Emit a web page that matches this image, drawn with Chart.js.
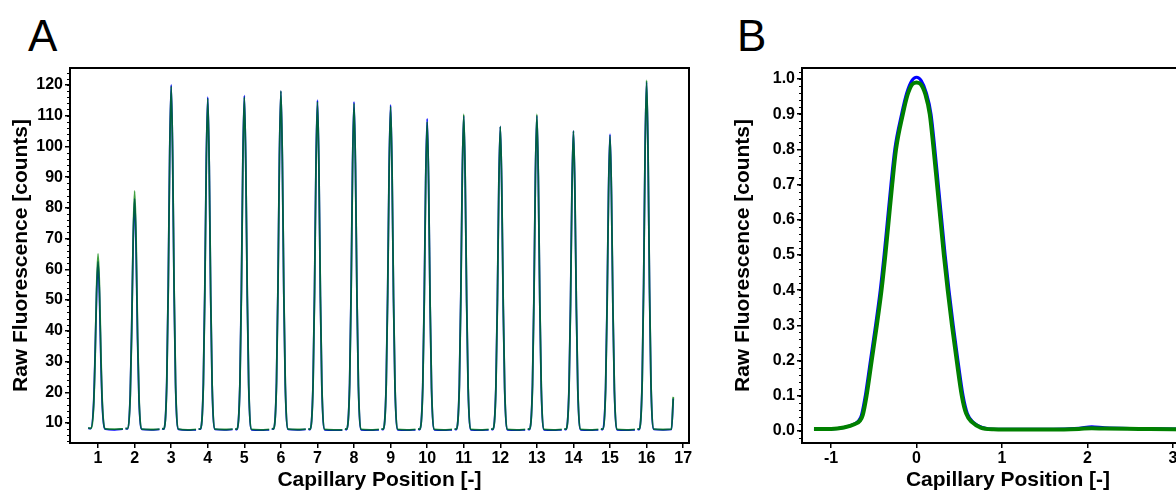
<!DOCTYPE html>
<html>
<head>
<meta charset="utf-8">
<script src="https://cdn.jsdelivr.net/npm/chart.js@4/dist/chart.umd.min.js"></script>
<style>
  body { margin: 0; background: #fff; overflow: hidden; width: 1176px; height: 493px; position: relative; }
  .panel { position: absolute; top: 0; height: 493px; }
  .letter { position: absolute; top: 14px; font-family: "Liberation Sans", Arial, sans-serif; font-size: 44px; line-height: 1; color: #000; }
</style>
</head>
<body>
<div class="letter" style="left:28px">A</div>
<div class="letter" style="left:737px">B</div>
<div class="panel" style="left:0; width:700px"><canvas id="chartA"></canvas></div>
<div class="panel" style="left:700px; width:530px"><canvas id="chartB"></canvas></div>

<script>
// ---- panel A : raw scan over 16 capillaries ----
let xTicksA = [1, 2, 3, 4, 5, 6, 7, 8, 9, 10, 11, 12, 13, 14, 15, 16, 17]
let yTicksA = [10, 20, 30, 40, 50, 60, 70, 80, 90, 100, 110, 120]

let posA = [
  0.73, 0.8, 0.88, 0.92, 0.96, 1, 1.04, 1.08, 1.12, 1.2, 1.45, 1.68, 1.7,
  1.75, 1.8, 1.88, 1.92, 1.96, 2, 2.04, 2.08, 2.12, 2.2, 2.45, 2.68, 2.7,
  2.75, 2.8, 2.88, 2.92, 2.96, 3, 3.04, 3.08, 3.12, 3.2, 3.45, 3.68, 3.7,
  3.75, 3.8, 3.88, 3.92, 3.96, 4, 4.04, 4.08, 4.12, 4.2, 4.45, 4.68, 4.7,
  4.75, 4.8, 4.88, 4.92, 4.96, 5, 5.04, 5.08, 5.12, 5.2, 5.45, 5.68, 5.7,
  5.75, 5.8, 5.88, 5.92, 5.96, 6, 6.04, 6.08, 6.12, 6.2, 6.45, 6.68, 6.7,
  6.75, 6.8, 6.88, 6.92, 6.96, 7, 7.04, 7.08, 7.12, 7.2, 7.45, 7.68, 7.7,
  7.75, 7.8, 7.88, 7.92, 7.96, 8, 8.04, 8.08, 8.12, 8.2, 8.45, 8.68, 8.7,
  8.75, 8.8, 8.88, 8.92, 8.96, 9, 9.04, 9.08, 9.12, 9.2, 9.45, 9.68, 9.7,
  9.75, 9.8, 9.88, 9.92, 9.96, 10, 10.04, 10.08, 10.12, 10.2, 10.45, 10.68, 10.7,
  10.75, 10.8, 10.88, 10.92, 10.96, 11, 11.04, 11.08, 11.12, 11.2, 11.45, 11.68, 11.7,
  11.75, 11.8, 11.88, 11.92, 11.96, 12, 12.04, 12.08, 12.12, 12.2, 12.45, 12.68, 12.7,
  12.75, 12.8, 12.88, 12.92, 12.96, 13, 13.04, 13.08, 13.12, 13.2, 13.45, 13.68, 13.7,
  13.75, 13.8, 13.88, 13.92, 13.96, 14, 14.04, 14.08, 14.12, 14.2, 14.45, 14.68, 14.7,
  14.75, 14.8, 14.88, 14.92, 14.96, 15, 15.04, 15.08, 15.12, 15.2, 15.45, 15.68, 15.7,
  15.75, 15.8, 15.88, 15.92, 15.96, 16, 16.04, 16.08, 16.12, 16.2, 16.45, 16.68, 16.73
]

let blueA = [
  8.3, 8.2, 16.5, 32.5, 52.0, 62.5, 51.0, 29.5, 14.8, 8.0, 7.8, 8.0, null,
  8.2, 8.1, 19.2, 41.0, 69.0, 83, 67.0, 37.5, 17.5, 7.9, 7.8, 7.9, null,
  8.1, 8.0, 23.8, 55.0, 98.5, 120, 96.5, 52.5, 22.4, 7.9, 7.7, 7.8, null,
  8.0, 8.0, 23.2, 53.4, 95.3, 116, 93.6, 51.2, 22.0, 7.9, 7.8, 7.9, null,
  8.0, 7.9, 23.3, 53.6, 95.7, 116.5, 94.0, 51.4, 22.0, 7.8, 7.7, 7.8, null,
  8.1, 8.0, 23.6, 54.4, 97.0, 118, 95.2, 52.0, 22.3, 7.9, 7.8, 7.9, null,
  8.0, 7.9, 23.1, 53.0, 94.6, 115, 92.8, 51.0, 21.9, 7.8, 7.7, 7.7, null,
  8.0, 7.9, 23.0, 52.8, 94.2, 114.5, 92.5, 50.8, 21.8, 7.8, 7.7, 7.8, null,
  8.0, 7.9, 22.9, 52.5, 93.3, 113.5, 91.6, 50.4, 21.7, 7.8, 7.7, 7.8, null,
  8.0, 7.9, 22.3, 50.5, 89.6, 109, 87.8, 48.6, 21.1, 7.8, 7.7, 7.8, null,
  8.0, 7.9, 22.5, 51.2, 90.7, 110, 89.0, 49.2, 21.3, 7.8, 7.7, 7.8, null,
  8.0, 7.9, 22.0, 49.7, 87.9, 106.5, 86.0, 47.8, 20.8, 7.8, 7.7, 7.8, null,
  8.0, 7.9, 22.5, 51.2, 90.7, 110, 89.0, 49.2, 21.3, 7.8, 7.7, 7.8, null,
  8.0, 7.9, 21.8, 49.0, 86.7, 105, 84.8, 47.2, 20.6, 7.8, 7.7, 7.8, null,
  8.0, 7.9, 21.7, 48.6, 85.8, 104, 84.0, 46.9, 20.5, 7.8, 7.7, 7.8, null,
  8.0, 7.9, 24.0, 55.6, 99.6, 121, 97.6, 53.8, 22.8, 7.9, 7.8, 7.9, 18.0
]

let greenA = [
  8.4, 8.3, 15.7, 31.4, 53.6, 65, 53.6, 31.4, 15.7, 8.1, 8.0, 8.1, null,
  8.3, 8.2, 18.5, 39.8, 70.0, 85.5, 70.0, 39.8, 18.5, 8.0, 7.9, 8.0, null,
  8.2, 8.1, 23.1, 53.7, 97.2, 119.5, 97.2, 53.7, 23.1, 8.0, 7.8, 7.9, null,
  8.1, 8.1, 22.5, 52.1, 94.0, 115.5, 94.0, 52.1, 22.5, 8.0, 7.9, 8.0, null,
  8.1, 8.0, 22.6, 52.3, 94.4, 116, 94.4, 52.3, 22.6, 7.9, 7.8, 7.9, null,
  8.2, 8.1, 22.9, 53.1, 96.0, 118, 96.0, 53.1, 22.9, 8.0, 7.9, 8.0, null,
  8.1, 8.0, 22.4, 51.7, 93.2, 114.5, 93.2, 51.7, 22.4, 7.9, 7.8, 7.8, null,
  8.1, 8.0, 22.3, 51.5, 92.8, 114, 92.8, 51.5, 22.3, 7.9, 7.8, 7.9, null,
  8.1, 8.0, 22.2, 51.1, 92.0, 113, 92.0, 51.1, 22.2, 7.9, 7.8, 7.9, null,
  8.1, 8.0, 21.5, 49.0, 88.0, 108, 88.0, 49.0, 21.5, 7.9, 7.8, 7.9, null,
  8.1, 8.0, 21.8, 50.0, 90.0, 110.5, 90.0, 50.0, 21.8, 7.9, 7.8, 7.9, null,
  8.1, 8.0, 21.3, 48.4, 86.8, 106.5, 86.8, 48.4, 21.3, 7.9, 7.8, 7.9, null,
  8.1, 8.0, 21.8, 50.0, 90.0, 110.5, 90.0, 50.0, 21.8, 7.9, 7.8, 7.9, null,
  8.1, 8.0, 21.1, 47.8, 85.6, 105, 85.6, 47.8, 21.1, 7.9, 7.8, 7.9, null,
  8.1, 8.0, 20.9, 47.2, 84.4, 103.5, 84.4, 47.2, 20.9, 7.9, 7.8, 7.9, null,
  8.1, 8.0, 23.3, 54.5, 98.8, 121.5, 98.8, 54.5, 23.3, 8.0, 7.9, 8.0, 18.5
]

// ---- panel B : normalised peak profile ----
let xTicksB = [-1, 0, 1, 2, 3]
let yTicksB = [0, 0.1, 0.2, 0.3, 0.4, 0.5, 0.6, 0.7, 0.8, 0.9, 1.0]

let posBlueB = [-1.2, -1.0, -0.85, -0.73, -0.675, -0.645, -0.6, -0.54, -0.48, -0.425, -0.38, -0.34, -0.3, -0.255,
  -0.175, -0.115, -0.055, 0, 0.055, 0.115, 0.17, 0.215, 0.255, 0.295, 0.335, 0.38, 0.43, 0.485, 0.545, 0.595, 0.665, 0.77,
  0.9, 1.2, 1.6, 1.9, 2.05, 2.2, 2.6, 3.0, 3.5]
let blueB = [0.007, 0.006, 0.01, 0.02, 0.03, 0.045, 0.1, 0.2, 0.3, 0.4, 0.5, 0.6, 0.7, 0.8,
  0.9, 0.96, 0.995, 1.005, 0.995, 0.96, 0.9, 0.8, 0.7, 0.6, 0.5, 0.4, 0.3, 0.2, 0.1, 0.05, 0.025, 0.01,
  0.005, 0.005, 0.005, 0.008, 0.012, 0.009, 0.007, 0.006, 0.004]

let posGreenB = [-1.2, -1.0, -0.85, -0.72, -0.66, -0.63, -0.585, -0.525, -0.465, -0.41, -0.365, -0.325, -0.285, -0.24,
  -0.16, -0.105, -0.05, 0, 0.05, 0.105, 0.155, 0.2, 0.24, 0.28, 0.32, 0.365, 0.415, 0.47, 0.53, 0.58, 0.65, 0.75,
  0.9, 1.2, 1.6, 1.9, 2.05, 2.2, 2.6, 3.0, 3.5]
let greenB = [0.006, 0.006, 0.01, 0.02, 0.03, 0.045, 0.1, 0.2, 0.3, 0.4, 0.5, 0.6, 0.7, 0.8,
  0.9, 0.955, 0.985, 0.99, 0.985, 0.955, 0.9, 0.8, 0.7, 0.6, 0.5, 0.4, 0.3, 0.2, 0.1, 0.05, 0.025, 0.01,
  0.005, 0.004, 0.004, 0.006, 0.008, 0.007, 0.006, 0.005, 0.003]


Chart.defaults.font.family = '"Liberation Sans", Arial, sans-serif'
Chart.defaults.color = '#000'

function points(xs, ys) {
  return xs.map((x, i) => ({ x: x, y: ys[i] }))
}

// frame around the plot + small minor ticks on the y axis
let frameBox = {
  id: 'frameBox',
  afterDraw(chart, args, opts) {
    let ctx = chart.ctx
    let a = chart.chartArea
    let y = chart.scales.y
    ctx.save()
    ctx.strokeStyle = '#000'
    ctx.lineWidth = 2
    ctx.strokeRect(a.left, a.top, a.right - a.left, a.bottom - a.top)
    ctx.lineWidth = 1
    ctx.beginPath()
    let n = Math.ceil(y.min / opts.step)
    while (n * opts.step <= y.max) {
      let p = Math.round(y.getPixelForValue(n * opts.step)) + 0.5
      ctx.moveTo(a.left - 3, p)
      ctx.lineTo(a.left, p)
      n++
    }
    ctx.stroke()
    ctx.restore()
  }
}

function makeChart(id, cfg) {
  let tickFont = { size: 16, weight: 'bold' }
  let titleFont = { size: 21, weight: 'bold' }
  return new Chart(document.getElementById(id), {
    type: 'line',
    data: { datasets: cfg.datasets },
    options: {
      responsive: true,
      maintainAspectRatio: false,
      animation: false,
      layout: { padding: cfg.padding },
      elements: { point: { radius: 0 }, line: { cubicInterpolationMode: 'monotone' } },
      plugins: { legend: { display: false }, tooltip: { enabled: false }, frameBox: { step: cfg.minorStep } },
      scales: {
        x: {
          type: 'linear',
          min: cfg.xMin, max: cfg.xMax,
          afterBuildTicks: s => { s.ticks = cfg.xTicks.map(v => ({ value: v })) },
          afterFit: s => { s.height = 50 },
          ticks: { font: tickFont, color: '#000', padding: 1, maxRotation: 0, autoSkip: false, callback: v => String(v) },
          grid: { drawOnChartArea: false, tickLength: 5, color: '#000', lineWidth: 1.5 },
          border: { color: '#000', width: 2 },
          title: { display: true, text: 'Capillary Position [-]', font: titleFont, color: '#000', padding: { top: 0, bottom: 0 } }
        },
        y: {
          type: 'linear',
          min: cfg.yMin, max: cfg.yMax,
          afterBuildTicks: s => { s.ticks = cfg.yTicks.map(v => ({ value: v })) },
          afterFit: s => { s.width = cfg.yWidth },
          ticks: { font: tickFont, color: '#000', padding: 2, autoSkip: false, callback: cfg.yFormat },
          grid: { drawOnChartArea: false, tickLength: 5, color: '#000', lineWidth: 1.5 },
          border: { color: '#000', width: 2 },
          title: { display: true, text: 'Raw Fluorescence [counts]', font: titleFont, color: '#000', padding: { top: cfg.yTitlePad, bottom: 0 } }
        }
      }
    },
    plugins: [frameBox]
  })
}

// green listed first so it is drawn on top of the blue trace
makeChart('chartA', {
  datasets: [
    { data: points(posA, greenA), borderColor: 'rgba(0,128,0,0.75)', borderWidth: 1.8, spanGaps: false },
    { data: points(posA, blueA), borderColor: 'rgb(0,0,255)', borderWidth: 1.8, spanGaps: false }
  ],
  padding: { top: 68, right: 11, left: 0, bottom: 0 },
  xMin: 0.233, xMax: 17.16, xTicks: xTicksA,
  yMin: 3.5, yMax: 125.5, yTicks: yTicksA,
  yWidth: 70, yTitlePad: 8.4, minorStep: 2,
  yFormat: v => String(v)
})

makeChart('chartB', {
  datasets: [
    { data: points(posGreenB, greenB), borderColor: 'rgb(0,128,0)', borderWidth: 4 },
    { data: points(posBlueB, blueB), borderColor: 'rgb(0,0,255)', borderWidth: 3 }
  ],
  padding: { top: 68, right: 16, left: 0, bottom: 0 },
  xMin: -1.34, xMax: 3.48, xTicks: xTicksB,
  yMin: -0.034, yMax: 1.031, yTicks: yTicksB,
  yWidth: 102, yTitlePad: 30.4, minorStep: 0.02,
  yFormat: v => v.toFixed(1)
})
</script>
</body>
</html>
